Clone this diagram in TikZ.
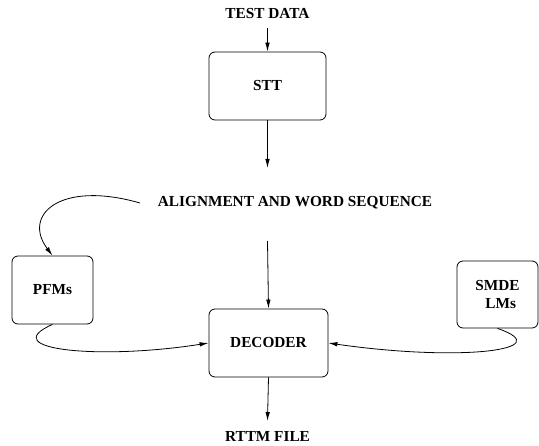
\documentclass[tikz,border=0pt]{standalone}
\usepackage{fontspec}
\setmainfont{Liberation Serif}
\usetikzlibrary{arrows.meta}
\begin{document}
\begin{tikzpicture}[x=1pt,y=-1pt,
  every node/.style={font=\fontsize{15.3}{18}\selectfont\bfseries, inner sep=0pt},
  blk/.style={draw, line width=0.8pt, rounded corners=6pt},
  lbl/.style={},
  arr/.style={line width=0.8pt, -{Latex[length=9pt,width=4.5pt]}}]
\useasboundingbox (0,0) rectangle (539,446);
\node[lbl] (test) at (267.5,14) {TEST DATA};
\node[blk, minimum width=117pt, minimum height=68pt] (stt) at (267.5,86) {STT};
\node[lbl] (align) at (295,203) {ALIGNMENT AND WORD SEQUENCE};
\node[blk, minimum width=81pt, minimum height=68pt] (pfm) at (52.5,290) {PFMs};
\node[blk, minimum width=119pt, minimum height=68pt] (dec) at (268.5,343) {DECODER};
\node[blk, minimum width=81pt, minimum height=67pt, align=left] (smde) at (497.5,294.5) {SMDE\\\hspace{10pt}LMs};
\node[lbl] (rttm) at (267.5,436.5) {RTTM FILE};
\coordinate (a1) at (267.5,28);
\coordinate (a2) at (267.5,168);
\coordinate (a3) at (267.5,241);
\coordinate (a4) at (267.5,421);
\coordinate (c0) at (140,203);
\draw[arr] (a1) -- (stt.north);
\draw[arr] (stt.south) -- (a2);
\draw[arr] (a3) -- (dec.north);
\draw[arr] (dec.south) -- (a4);
\draw[arr] (c0) .. controls (60,180) and (22,215) .. (pfm.north);
\draw[arr] (pfm.south) .. controls (-5,350) and (100,360) .. (dec.west);
\draw[arr] (smde.south) .. controls (560,350) and (460,362) .. (dec.east);
\end{tikzpicture}
\end{document}
